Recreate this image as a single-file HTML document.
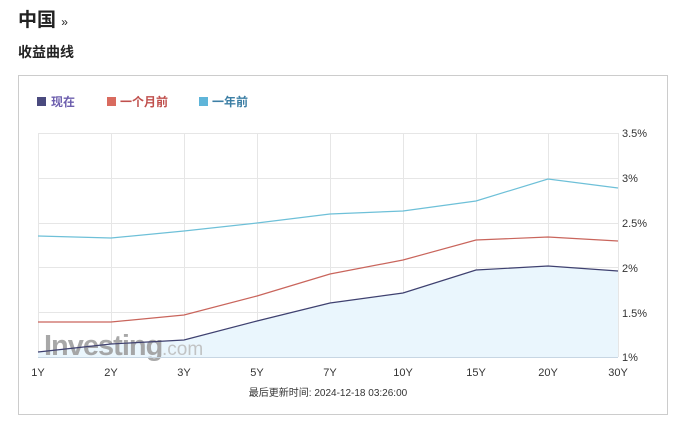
<!DOCTYPE html>
<html><head><meta charset="utf-8"><style>
body{margin:0;background:#fff;font-family:"Liberation Sans","Noto Sans CJK SC",sans-serif;}
.t1{position:absolute;left:18px;top:5px;font-size:19px;font-weight:bold;color:#222}
.t1 span{font-size:12px;font-weight:normal}
.t2{position:absolute;left:18px;top:42px;font-size:14px;font-weight:bold;color:#222}
.box{position:absolute;left:18px;top:75px;width:650px;height:340px;border:1px solid #ccc;box-sizing:border-box}
</style></head><body>
<div class="t1">中国 <span>»</span></div>
<div class="t2">收益曲线</div>
<div class="box"></div>
<svg width="683" height="424" style="position:absolute;left:0;top:0" font-family="Liberation Sans, Noto Sans CJK SC, sans-serif">
<g font-size="12" font-weight="bold">
<rect x="37" y="97" width="9" height="9" fill="#4a4a7e"/><text x="51" y="106" fill="#6d5fae">现在</text>
<rect x="107" y="97" width="9" height="9" fill="#d96b5f"/><text x="120" y="106" fill="#c0504d">一个月前</text>
<rect x="199" y="97" width="9" height="9" fill="#5fb5d9"/><text x="212" y="106" fill="#3d7fa5">一年前</text>
</g>
<g stroke="#e6e6e6" stroke-width="1">
<line x1="38" y1="133.5" x2="618" y2="133.5"/><line x1="38" y1="178.5" x2="618" y2="178.5"/><line x1="38" y1="223.5" x2="618" y2="223.5"/><line x1="38" y1="267.5" x2="618" y2="267.5"/><line x1="38" y1="312.5" x2="618" y2="312.5"/>
<line x1="38.5" y1="133" x2="38.5" y2="357"/><line x1="111.5" y1="133" x2="111.5" y2="357"/><line x1="184.5" y1="133" x2="184.5" y2="357"/><line x1="257.5" y1="133" x2="257.5" y2="357"/><line x1="330.5" y1="133" x2="330.5" y2="357"/><line x1="403.5" y1="133" x2="403.5" y2="357"/><line x1="476.5" y1="133" x2="476.5" y2="357"/><line x1="548.5" y1="133" x2="548.5" y2="357"/><line x1="618.5" y1="133" x2="618.5" y2="357"/>
</g>
<polygon points="38,352 111,344 184,340 257,321 330,303 403,293 476,270 548,266 618,271 618,357 38,357" fill="#eaf6fd"/>
<text x="44" y="355" font-size="29" font-weight="bold" fill="#999" opacity="0.85" letter-spacing="-1">Investing</text>
<text x="162" y="355" font-size="19" fill="#bbb" opacity="0.85">.com</text>
<polyline points="38,236 111,238 184,231 257,223 330,214 403,211 476,201 548,179 618,188" fill="none" stroke="#6ec0d8" stroke-width="1.2"/>
<polyline points="38,322 111,322 184,315 257,296 330,274 403,260 476,240 548,237 618,241" fill="none" stroke="#c9655c" stroke-width="1.2"/>
<polyline points="38,352 111,344 184,340 257,321 330,303 403,293 476,270 548,266 618,271" fill="none" stroke="#3f4170" stroke-width="1.2"/>
<line x1="38" y1="357.5" x2="618" y2="357.5" stroke="#c7d6e3"/>
<g font-size="11" fill="#333">
<text x="622" y="137">3.5%</text><text x="622" y="182">3%</text><text x="622" y="227">2.5%</text><text x="622" y="272">2%</text><text x="622" y="317">1.5%</text><text x="622" y="361">1%</text>
</g>
<g font-size="11" fill="#333" text-anchor="middle">
<text x="38" y="376">1Y</text><text x="111" y="376">2Y</text><text x="184" y="376">3Y</text><text x="257" y="376">5Y</text><text x="330" y="376">7Y</text><text x="403" y="376">10Y</text><text x="476" y="376">15Y</text><text x="548" y="376">20Y</text><text x="618" y="376">30Y</text>
<text x="328" y="396" font-size="10">最后更新时间: 2024-12-18 03:26:00</text>
</g>
</svg>
</body></html>
